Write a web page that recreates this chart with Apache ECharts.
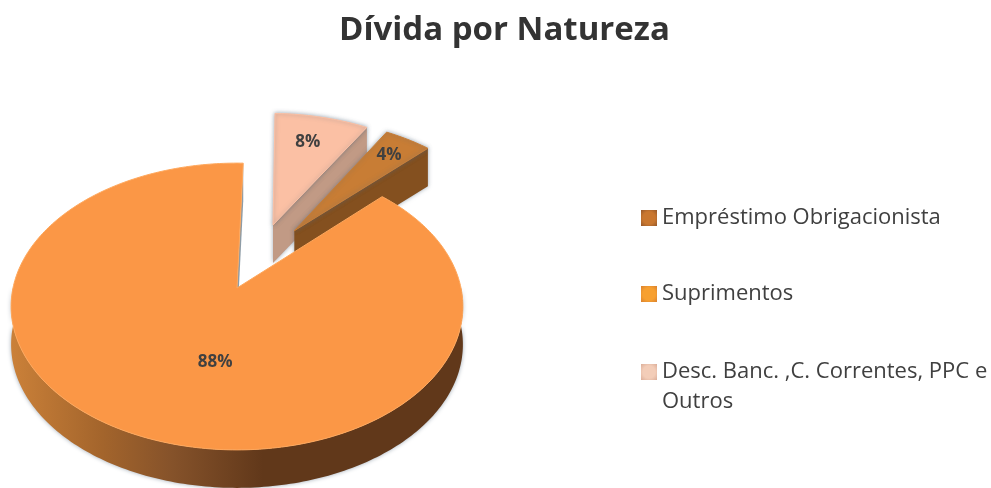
<!DOCTYPE html>
<html><head><meta charset="utf-8">
<style>html,body{margin:0;padding:0;background:#fff}#c{width:991px;height:488px;filter:blur(0.6px)}</style>
<script src="https://cdn.jsdelivr.net/npm/echarts@6/dist/echarts.min.js"></script>
</head><body><div id="c"></div>
<script>
// Data
const categories = ['Empréstimo Obrigacionista', 'Suprimentos', 'Desc. Banc. ,C. Correntes, PPC e Outros'];
const values = [4, 88, 8];
const titleText = 'Dívida por Natureza';

// Look
const topColors = ['#C87D35', '#FB9746', '#FBC0A4'];
const wallColors = ['#84501F', null, '#C19A85'];
const legendCenters = ['#C9772F', '#F7A030', '#F3CDB8'];
const legendEdges = ['#95582A', '#D9812F', '#DBAE99'];
const legendTops = [203, 279, 327];
const textFont = 'Open Sans';

// Projection of the tilted pie (perspective, front is larger)
const cx = 237, cy = 288, R = 224, Ry = 141, k = 0.129, depth = 38;
const firstAngle = 30.6;
// Slice displacement in pie units, and label placement along the bisector
const explode = [[0.27, -0.4285], [0, 0], [0.1706, -0.4744]];
const labelFrac = [0.82, 0.535, 0.75];
const labelNudge = [[0, 0], [29, 0], [-3, 0]];
const total = values.reduce((a, b) => a + b, 0);

function project(u, v, dy) {
  const s = 1 / (1 - k * v);
  return [cx + R * u * s, cy + Ry * v * s + (dy || 0)];
}
function sliceAngles(i) {
  let a = firstAngle;
  for (let j = 0; j < i; j++) a += values[j] / total * 360;
  return [a, a + values[i] / total * 360];
}
function rim(i, a, dy, f) {
  const t = a * Math.PI / 180, e = explode[i], r = f === undefined ? 1 : f;
  return project(e[0] + r * Math.sin(t), e[1] - r * Math.cos(t), dy);
}
function arc(i, a0, a1, dy) {
  const pts = [];
  for (let a = a0; a <= a1; a += 1) pts.push(rim(i, a, dy));
  pts.push(rim(i, a1, dy));
  return pts;
}
const wallGradient = {
  type: 'linear', global: true, x: 10, y: 0, x2: 462, y2: 0,
  colorStops: [{offset: 0, color: '#CB8139'}, {offset: 0.2, color: '#A4652C'},
               {offset: 0.36, color: '#85522A'}, {offset: 0.56, color: '#61381A'}, {offset: 1, color: '#61381A'}]
};
const shadow = {shadowBlur: 4, shadowColor: 'rgba(80,100,120,0.55)'};

function renderSlice(i) {
  return function (params, api) {
    const val = api.value(0);
    const [a0, a1] = sliceAngles(i);
    const apex = rim(i, 0, 0, 0), apexLow = rim(i, 0, depth, 0);
    const outer = arc(i, a0, a1, 0);
    const children = [];
    const e = rim(i, a1, 0), eLow = rim(i, a1, depth);
    if (i === 1) {
      children.push({type: 'polygon', shape: {points: [apex, e, eLow, apexLow]}, style: {fill: '#8E9CA6'}});
      const front = arc(i, 90, 270, 0), frontLow = arc(i, 90, 270, depth).reverse();
      children.push({type: 'polygon', shape: {points: front.concat(frontLow)},
        style: Object.assign({fill: wallGradient}, shadow)});
    } else {
      children.push({type: 'polygon', shape: {points: [apex, e, eLow, apexLow]},
        style: Object.assign({fill: wallColors[i]}, shadow)});
    }
    children.push({type: 'polygon', shape: {points: [apex].concat(outer)},
      style: Object.assign({fill: topColors[i], stroke: i === 1 ? '#FFA85C' : topColors[i], lineWidth: 1},
        i === 1 ? {} : shadow)});
    const mid = (a0 + a1) / 2;
    const p = rim(i, mid, 0, labelFrac[i]);
    children.push({type: 'text', style: {
      text: Math.round(val / total * 100) + '%',
      x: p[0] + labelNudge[i][0], y: p[1] + labelNudge[i][1],
      align: 'center', verticalAlign: 'middle',
      font: 'bold 17px "' + textFont + '"', fill: '#404040'
    }});
    return {type: 'group', children};
  };
}

// Back slices first, the big slice on top
const drawOrder = [2, 0, 1];
const series = drawOrder.map(i => ({
  type: 'custom', name: categories[i], coordinateSystem: 'none',
  itemStyle: {color: topColors[i]},
  data: [[values[i]]], renderItem: renderSlice(i), silent: true, animation: false
}));

const legend = categories.map((name, i) => ({
  data: [{name, itemStyle: {color: {
    type: 'radial', x: 0.5, y: 0.5, r: 0.7,
    colorStops: [{offset: 0, color: legendCenters[i]}, {offset: 0.55, color: legendCenters[i]}, {offset: 1, color: legendEdges[i]}]
  }}}],
  left: 641, top: legendTops[i], orient: 'vertical', padding: 0,
  icon: 'rect', itemWidth: 16, itemHeight: 16, selectedMode: false,
  formatter: n => i === 2 ? '\nDesc. Banc. ,C. Correntes, PPC e\nOutros' : n,
  textStyle: {fontFamily: textFont, fontSize: 22, color: '#404040', lineHeight: 30}
}));

const chart = echarts.init(document.getElementById('c'), null, {renderer: 'canvas'});
chart.setOption({
  backgroundColor: '#ffffff', animation: false,
  title: {text: titleText, left: 334, top: 9,
    textStyle: {fontFamily: textFont, fontWeight: 'bold', fontSize: 33, color: '#333333'}},
  legend, series
});
</script></body></html>
